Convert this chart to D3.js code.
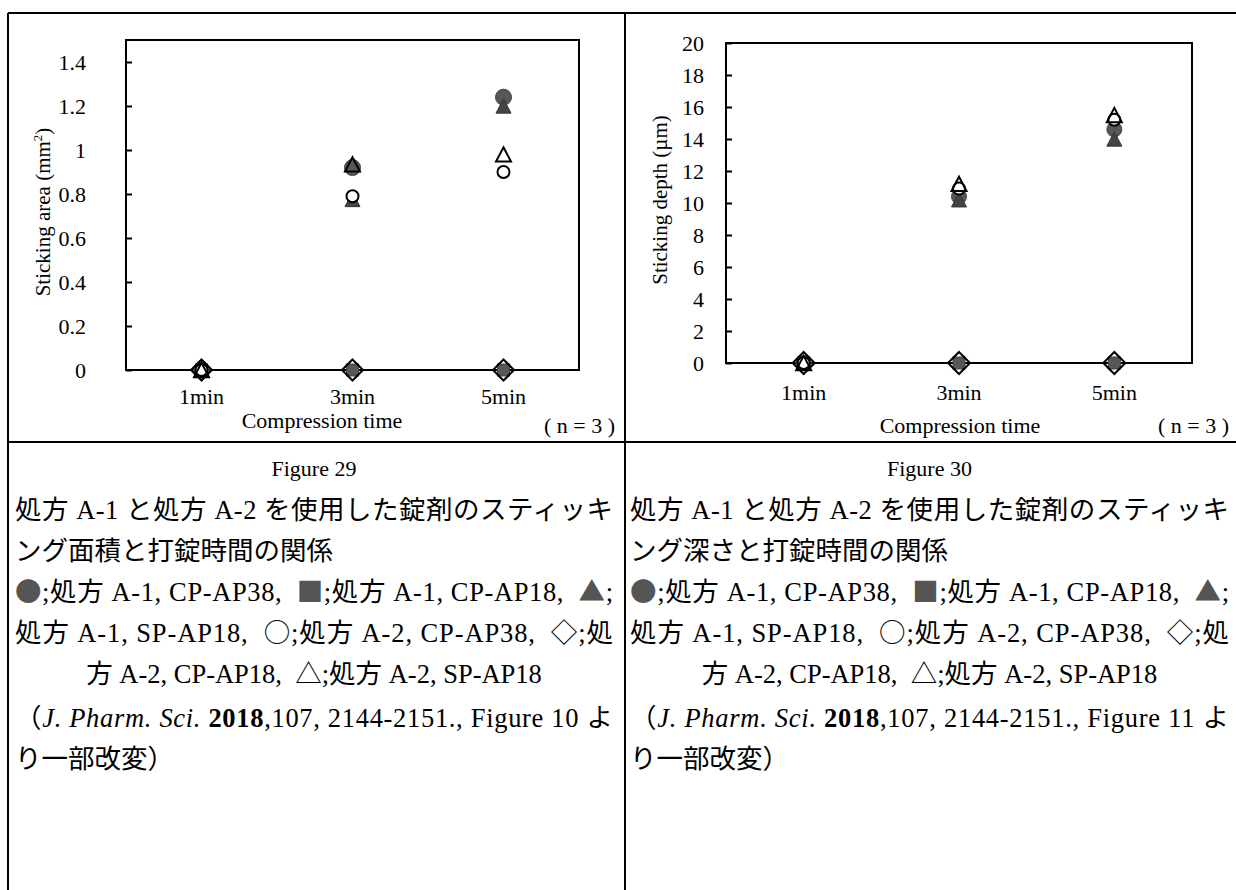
<!DOCTYPE html>
<html>
<head>
<meta charset="utf-8">
<script src="https://cdn.jsdelivr.net/npm/d3@7"></script>
<style>
  body { margin: 0; background: #fff; }
  text { font-family: "Liberation Serif", "Noto Sans CJK JP", serif; fill: #000; }
</style>
</head>
<body>
<svg id="fig" width="1236" height="890"></svg>
<script>
// ---- data -------------------------------------------------------------
const categories = ["1min", "3min", "5min"];

// Figure 29: sticking area (mm²)
const areaA1CP38 = [0, 0.92, 1.24];   // ● 処方 A-1, CP-AP38
const areaA1CP18 = [0, 0, 0];         // ■ 処方 A-1, CP-AP18
const areaA1SP18 = [0, 0.775, 1.20];  // ▲ 処方 A-1, SP-AP18
const areaA2CP38 = [0, 0.79, 0.90];   // ○ 処方 A-2, CP-AP38
const areaA2CP18 = [0, 0, 0];         // ◇ 処方 A-2, CP-AP18
const areaA2SP18 = [0, 0.935, 0.98];  // △ 処方 A-2, SP-AP18
const areaTicks = [0, 0.2, 0.4, 0.6, 0.8, 1, 1.2, 1.4];
const areaMax = 1.5;

// Figure 30: sticking depth (µm)
const depthA1CP38 = [0, 10.4, 14.6];
const depthA1CP18 = [0, 0, 0];
const depthA1SP18 = [0, 10.2, 14.0];
const depthA2CP38 = [0, 10.9, 15.2];
const depthA2CP18 = [0, 0, 0];
const depthA2SP18 = [0, 11.2, 15.5];
const depthTicks = [0, 2, 4, 6, 8, 10, 12, 14, 16, 18, 20];
const depthMax = 20;

// marker kinds, in drawing order
const markerKinds = ["dotFilled", "squareFilled", "triFilled", "dotOpen", "diamondOpen", "triOpen"];

// caption text (s: symbol glyph, c: grey symbol, i: italic, b: bold)
const caption29Title = "Figure 29";
const caption30Title = "Figure 30";
const caption29Lines = [
  [{t: "処方 A-1 と処方 A-2 を使用した錠剤のスティッキ"}],
  [{t: "ング面積と打錠時間の関係"}],
  [{t: "●", s: 1, c: 1}, {t: ";処方 A-1, CP-AP38,  "}, {t: "■", s: 1, c: 1}, {t: ";処方 A-1, CP-AP18,  "}, {t: "▲", s: 1, c: 1}, {t: ";"}],
  [{t: "処方 A-1, SP-AP18,  "}, {t: "○", s: 1}, {t: ";処方 A-2, CP-AP38,  "}, {t: "◇", s: 1}, {t: ";処"}],
  [{t: "方 A-2, CP-AP18,  "}, {t: "△", s: 1}, {t: ";処方 A-2, SP-AP18"}],
  [{t: "（", s: 1}, {t: "J. Pharm. Sci.", i: 1}, {t: " "}, {t: "2018", b: 1}, {t: ",107, 2144-2151., Figure 10 よ"}],
  [{t: "り一部改変）"}]
];
const caption30Lines = [
  [{t: "処方 A-1 と処方 A-2 を使用した錠剤のスティッキ"}],
  [{t: "ング深さと打錠時間の関係"}],
  [{t: "●", s: 1, c: 1}, {t: ";処方 A-1, CP-AP38,  "}, {t: "■", s: 1, c: 1}, {t: ";処方 A-1, CP-AP18,  "}, {t: "▲", s: 1, c: 1}, {t: ";"}],
  [{t: "処方 A-1, SP-AP18,  "}, {t: "○", s: 1}, {t: ";処方 A-2, CP-AP38,  "}, {t: "◇", s: 1}, {t: ";処"}],
  [{t: "方 A-2, CP-AP18,  "}, {t: "△", s: 1}, {t: ";処方 A-2, SP-AP18"}],
  [{t: "（", s: 1}, {t: "J. Pharm. Sci.", i: 1}, {t: " "}, {t: "2018", b: 1}, {t: ",107, 2144-2151., Figure 11 よ"}],
  [{t: "り一部改変）"}]
];
// per-line layout: "j" justified, "l" left, "c" centered
const captionAlign = ["j", "l", "j", "j", "c", "j", "l"];

// ---- drawing ----------------------------------------------------------
const svg = d3.select("#fig");

// table rules
const rules = [
  [8, 13, 1236, 13],
  [8, 13, 8, 890],
  [625, 13, 625, 890],
  [8, 442, 1236, 442]
];
svg.append("g").selectAll("line").data(rules).join("line")
  .attr("x1", d => d[0]).attr("y1", d => d[1])
  .attr("x2", d => d[2]).attr("y2", d => d[3])
  .attr("stroke", "#000").attr("stroke-width", 2);

function drawMarker(g, kind, cx, cy, s) {
  const grey = "#575757";
  if (kind === "dotFilled") {
    g.append("circle").attr("cx", cx).attr("cy", cy).attr("r", s.dot)
      .attr("fill", grey).attr("stroke", "#444").attr("stroke-width", 1);
  } else if (kind === "squareFilled") {
    g.append("rect").attr("x", cx - s.sq / 2).attr("y", cy - s.sq / 2)
      .attr("width", s.sq).attr("height", s.sq)
      .attr("fill", grey).attr("stroke", "#444").attr("stroke-width", 1);
  } else if (kind === "triFilled" || kind === "triOpen") {
    const w = s.tri, h = s.tri * 0.95;
    const p = d3.path();
    p.moveTo(cx, cy - h / 2); p.lineTo(cx + w / 2, cy + h / 2); p.lineTo(cx - w / 2, cy + h / 2); p.closePath();
    const el = g.append("path").attr("d", p.toString()).attr("stroke-linejoin", "miter");
    if (kind === "triFilled") el.attr("fill", "#444").attr("stroke", "#333").attr("stroke-width", 1);
    else el.attr("fill", "none").attr("stroke", "#000").attr("stroke-width", 2);
  } else if (kind === "dotOpen") {
    g.append("circle").attr("cx", cx).attr("cy", cy).attr("r", s.ring)
      .attr("fill", "#fff").attr("stroke", "#000").attr("stroke-width", 2);
  } else if (kind === "diamondOpen") {
    const r = s.dia;
    const p = d3.path();
    p.moveTo(cx, cy - r); p.lineTo(cx + r, cy); p.lineTo(cx, cy + r); p.lineTo(cx - r, cy); p.closePath();
    g.append("path").attr("d", p.toString())
      .attr("fill", "none").attr("stroke", "#000").attr("stroke-width", 2);
  }
}

function drawPanel(cfg) {
  const g = svg.append("g");
  const x = d3.scalePoint().domain(categories).range([cfg.left, cfg.right]).padding(0.5);
  const y = d3.scaleLinear().domain([0, cfg.max]).range([cfg.bottom, cfg.top]);

  // plot frame
  g.append("rect")
    .attr("x", cfg.left).attr("y", cfg.top)
    .attr("width", cfg.right - cfg.left).attr("height", cfg.bottom - cfg.top)
    .attr("fill", "none").attr("stroke", "#000").attr("stroke-width", 2);

  // value axis with inward ticks
  const ax = g.append("g").attr("transform", `translate(${cfg.left},0)`)
    .call(d3.axisLeft(y).tickValues(cfg.ticks).tickFormat(d3.format("~g"))
      .tickSizeInner(-6).tickSizeOuter(0).tickPadding(cfg.tickPad));
  ax.select(".domain").remove();
  ax.selectAll(".tick line").attr("stroke", "#000").attr("stroke-width", 2);
  ax.selectAll(".tick text").attr("font-size", 22)
    .attr("font-family", "Liberation Serif").attr("fill", "#000");

  // category labels
  g.append("g").selectAll("text").data(categories).join("text")
    .attr("x", d => x(d)).attr("y", cfg.catY)
    .attr("text-anchor", "middle").attr("font-size", 22)
    .text(d => d);

  // axis titles
  g.append("text").attr("x", cfg.xTitleX).attr("y", cfg.xTitleY)
    .attr("text-anchor", "middle").attr("font-size", 22).text("Compression time");
  const yt = g.append("text")
    .attr("transform", `translate(${cfg.yTitleX},${cfg.yTitleY}) rotate(-90)`)
    .attr("text-anchor", "middle").attr("font-size", 21);
  cfg.yTitle.forEach(part => {
    const ts = yt.append("tspan").text(part.t);
    if (part.sup) ts.attr("font-size", 13).attr("dy", -8);
    if (part.after) ts.attr("dy", 8);
  });

  // markers
  const mg = g.append("g");
  cfg.series.forEach((vals, si) => {
    vals.forEach((v, ci) => {
      drawMarker(mg, markerKinds[si], x(categories[ci]), y(v), cfg.size);
    });
  });

  // sample size note
  g.append("text").attr("x", cfg.nX).attr("y", cfg.nY)
    .attr("text-anchor", "end").attr("font-size", 22).text("( n = 3 )");
}

drawPanel({
  left: 126, right: 579, top: 40, bottom: 370, max: areaMax, ticks: areaTicks, tickPad: 40,
  catY: 404, xTitleX: 322, xTitleY: 428, yTitleX: 50, yTitleY: 212,
  yTitle: [{t: "Sticking area (mm"}, {t: "2", sup: 1}, {t: ")", after: 1}],
  series: [areaA1CP38, areaA1CP18, areaA1SP18, areaA2CP38, areaA2CP18, areaA2SP18],
  size: {dot: 8, sq: 12, tri: 15, ring: 6, dia: 10.5},
  nX: 615, nY: 433
});

drawPanel({
  left: 726, right: 1192, top: 43, bottom: 363, max: depthMax, ticks: depthTicks, tickPad: 22,
  catY: 400, xTitleX: 960, xTitleY: 433, yTitleX: 667, yTitleY: 200,
  yTitle: [{t: "Sticking depth (µm)"}],
  series: [depthA1CP38, depthA1CP18, depthA1SP18, depthA2CP38, depthA2CP18, depthA2SP18],
  size: {dot: 7.5, sq: 12, tri: 15, ring: 6, dia: 11},
  nX: 1229, nY: 433
});

// captions
const lineBase = [519, 560, 601, 642, 683, 727, 768];
function drawCaption(title, lines, x0, x1) {
  const g = svg.append("g");
  g.append("text").attr("x", (x0 + x1) / 2).attr("y", 476)
    .attr("text-anchor", "middle").attr("font-size", 22).text(title);
  lines.forEach((segs, i) => {
    const al = captionAlign[i];
    const t = g.append("text").attr("y", lineBase[i]).attr("font-size", 26.5)
      .attr("xml:space", "preserve").style("white-space", "pre");
    if (al === "c") t.attr("x", (x0 + x1) / 2).attr("text-anchor", "middle");
    else t.attr("x", x0);
    segs.forEach(s => {
      const ts = t.append("tspan").text(s.t);
      if (s.s) ts.attr("font-family", "Noto Sans CJK JP");
      if (s.i) ts.attr("font-style", "italic");
      if (s.b) ts.attr("font-weight", "bold");
      if (s.c) ts.attr("fill", "#555");
    });
    if (al === "j") {
      const natural = t.node().getComputedTextLength();
      const target = x1 - x0;
      if (natural < target) t.attr("textLength", target).attr("lengthAdjust", "spacing");
    }
  });
}
drawCaption(caption29Title, caption29Lines, 15, 613);
drawCaption(caption30Title, caption30Lines, 630, 1229);
</script>
</body>
</html>
